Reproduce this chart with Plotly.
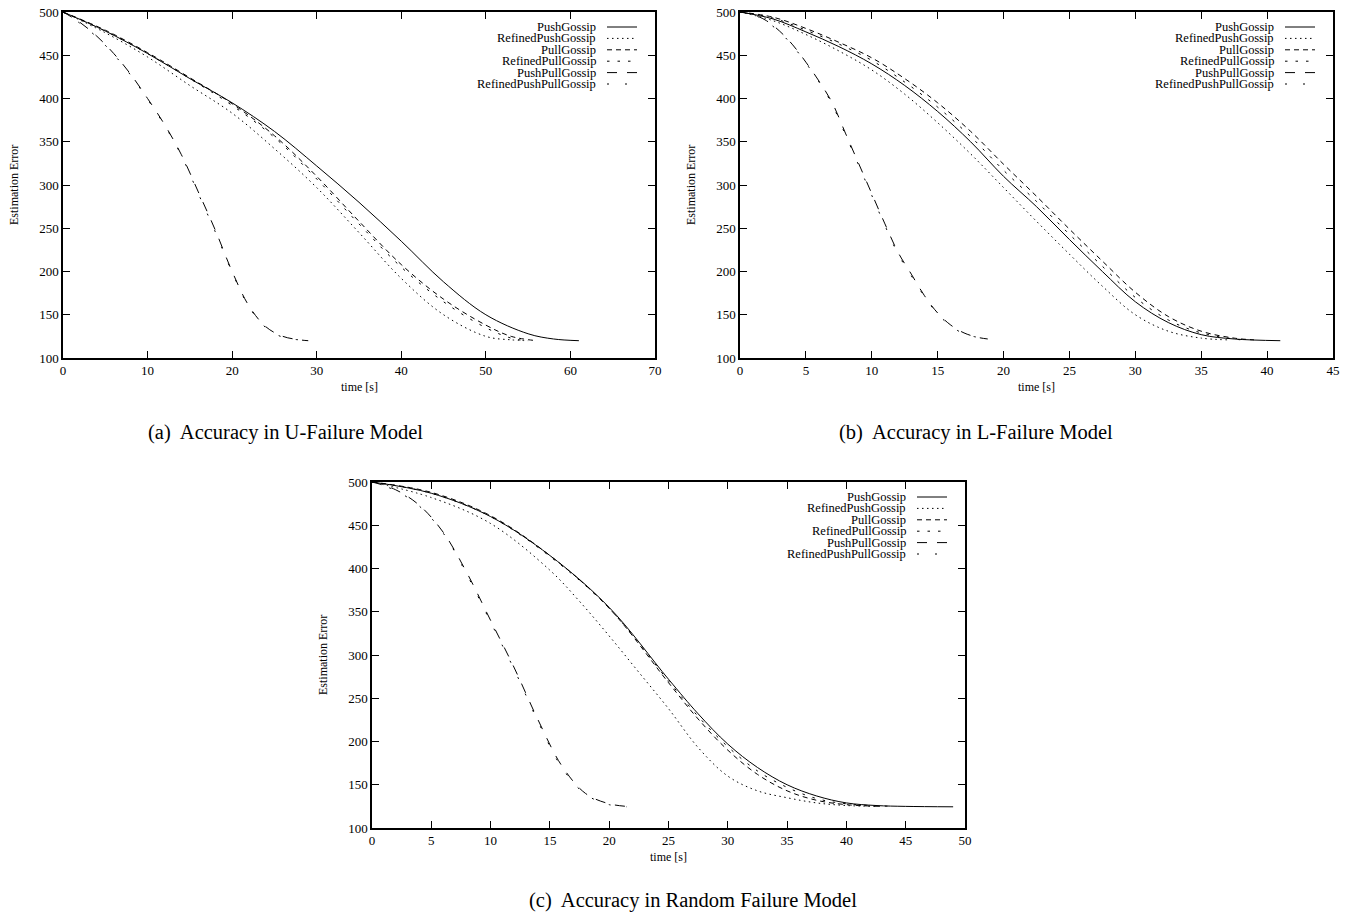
import plotly.graph_objects as go

# ---------------- data ----------------
# Panel (a): U-Failure Model
a_push_t = [0, 5, 10, 15, 20, 25, 30, 35, 40, 45, 50, 55, 58, 61]
a_push_v = [500, 478, 452, 423, 395, 362, 322, 280, 235, 188, 150, 128, 122, 120]
a_rpush_t = [0, 5, 10, 15, 20, 25, 30, 35, 40, 45, 50, 53, 55]
a_rpush_v = [500, 476, 448, 415, 383, 342, 297, 245, 192, 150, 125, 121, 120]
a_pull_t = [0, 5, 10, 15, 20, 25, 30, 35, 40, 45, 50, 53, 56]
a_pull_v = [500, 479, 453, 424, 394, 357, 310, 258, 208, 168, 138, 125, 120]
a_rpull_t = [0, 5, 10, 15, 20, 25, 30, 35, 40, 45, 50, 53, 55]
a_rpull_v = [500, 478, 452, 423, 392, 355, 307, 255, 205, 165, 135, 123, 120]
a_pp_t = [0, 2, 4, 6, 8, 10, 12, 14, 16, 18, 20, 22, 24, 26, 28, 29]
a_pp_v = [500, 488, 472, 452, 428, 400, 370, 335, 292, 248, 200, 160, 136, 125, 121, 120]
a_rpp_t = [0, 2, 4, 6, 8, 10, 12, 14, 16, 18, 20, 22, 24, 26, 28]
a_rpp_v = [500, 487, 471, 451, 427, 399, 369, 334, 290, 246, 199, 159, 135, 124, 121]

# Panel (b): L-Failure Model
b_push_t = [0, 2.5, 5, 7.5, 10, 12.5, 15, 17.5, 20, 22.5, 25, 27.5, 30, 32.5, 35, 37.5, 41]
b_push_v = [500, 492, 477, 460, 440, 415, 385, 350, 310, 275, 237, 200, 165, 141, 127, 122, 120]
b_rpush_t = [0, 2.5, 5, 7.5, 10, 12.5, 15, 17.5, 20, 22.5, 25, 27.5, 30, 32.5, 35, 37]
b_rpush_v = [500, 490, 474, 455, 433, 405, 372, 336, 297, 258, 220, 183, 150, 131, 123, 121]
b_pull_t = [0, 2.5, 5, 7.5, 10, 12.5, 15, 17.5, 20, 22.5, 25, 27.5, 30, 32.5, 35, 37.5, 39]
b_pull_v = [500, 494, 481, 465, 447, 423, 395, 362, 324, 287, 249, 212, 176, 148, 131, 123, 121]
b_rpull_t = [0, 2.5, 5, 7.5, 10, 12.5, 15, 17.5, 20, 22.5, 25, 27.5, 30, 32.5, 35, 38]
b_rpull_v = [500, 493, 479, 463, 444, 419, 390, 356, 317, 281, 243, 206, 170, 144, 129, 121]
b_pp_t = [0, 1, 2, 3, 4, 5, 6, 7, 8, 9, 10, 11, 12, 13, 14, 15, 16, 17, 18, 18.8]
b_pp_v = [500, 497, 490, 478, 462, 442, 420, 395, 360, 325, 290, 255, 222, 197, 172, 152, 138, 129, 124, 122]
b_rpp_t = [0, 1, 2, 3, 4, 5, 6, 7, 8, 9, 10, 11, 12, 13, 14, 15, 16, 17, 18]
b_rpp_v = [500, 497, 489, 477, 461, 441, 419, 393, 358, 323, 288, 253, 220, 195, 171, 151, 137, 128, 124]

# Panel (c): Random Failure Model
c_push_t = [0, 5, 10, 15, 20, 25, 27.5, 30, 32.5, 35, 37.5, 40, 42.5, 45, 49]
c_push_v = [500, 487, 460, 415, 355, 272, 232, 197, 170, 150, 137, 129, 126, 125, 124.5]
c_rpush_t = [0, 5, 10, 15, 17.5, 20, 22.5, 25, 27.5, 30, 32.5, 35, 37.5, 40, 43]
c_rpush_v = [500, 482, 452, 398, 362, 322, 280, 238, 193, 160, 143, 135, 129, 126, 125]
c_pull_t = [0, 5, 10, 15, 20, 25, 27.5, 30, 32.5, 35, 37.5, 40, 43]
c_pull_v = [500, 488, 461, 415, 354, 268, 226, 190, 162, 143, 132, 127, 125]
c_rpull_t = [0, 5, 10, 15, 20, 25, 27.5, 30, 32.5, 35, 37.5, 40, 44]
c_rpull_v = [500, 487, 460, 414, 354, 270, 229, 194, 166, 147, 134, 128, 125]
c_pp_t = [0, 2, 4, 6, 8, 10, 12, 14, 16, 18, 20, 22]
c_pp_v = [500, 491, 473, 442, 395, 340, 285, 225, 172, 140, 128, 124.5]
c_rpp_t = [0, 2, 4, 6, 8, 10, 12, 14, 16, 18, 20, 21.5]
c_rpp_v = [500, 490, 472, 441, 393, 338, 283, 223, 170, 139, 127, 124.5]

series_names = ["PushGossip", "RefinedPushGossip", "PullGossip",
                "RefinedPullGossip", "PushPullGossip", "RefinedPushPullGossip"]
dashes = ["solid", "1.5px,3.5px", "5px,4px", "2.5px,8px", "10px,10px", "2px,16px"]

panels = [
    dict(data=[(a_push_t, a_push_v), (a_rpush_t, a_rpush_v), (a_pull_t, a_pull_v),
               (a_rpull_t, a_rpull_v), (a_pp_t, a_pp_v), (a_rpp_t, a_rpp_v)],
         px=(63, 655), py=(12, 358), xmax=70, dtick=10,
         caption="(a)\u00a0 Accuracy in U-Failure Model", cap_xy=(285, 432)),
    dict(data=[(b_push_t, b_push_v), (b_rpush_t, b_rpush_v), (b_pull_t, b_pull_v),
               (b_rpull_t, b_rpull_v), (b_pp_t, b_pp_v), (b_rpp_t, b_rpp_v)],
         px=(740, 1333), py=(12, 358), xmax=45, dtick=5,
         caption="(b)\u00a0 Accuracy in L-Failure Model", cap_xy=(976, 432)),
    dict(data=[(c_push_t, c_push_v), (c_rpush_t, c_rpush_v), (c_pull_t, c_pull_v),
               (c_rpull_t, c_rpull_v), (c_pp_t, c_pp_v), (c_rpp_t, c_rpp_v)],
         px=(372, 965), py=(482, 828), xmax=50, dtick=5,
         caption="(c)\u00a0 Accuracy in Random Failure Model", cap_xy=(693, 900)),
]

W, H = 1353, 915
FONT = "Liberation Serif"

def fx(p):
    return p / W

def fy(p):
    return 1 - p / H

fig = go.Figure()
annotations = []
shapes = []

def txt(text, x, y, size, xanchor="center", angle=0):
    return dict(text=text, x=fx(x), y=fy(y), xref="paper", yref="paper",
                xanchor=xanchor, yanchor="middle", showarrow=False, textangle=angle,
                font=dict(family=FONT, size=size, color="black"))

for i, pn in enumerate(panels):
    k = "" if i == 0 else str(i + 1)
    for j, (t, v) in enumerate(pn["data"]):
        fig.add_trace(go.Scatter(
            x=t, y=v, mode="lines", name=series_names[j], showlegend=False,
            line=dict(color="black", width=1, dash=dashes[j], shape="spline", smoothing=1.0),
            xaxis="x" + k, yaxis="y" + k))
    axcommon = dict(showline=True, linecolor="black", linewidth=1.5, mirror="allticks",
                    ticks="inside", ticklen=7, tickwidth=1, tickcolor="black",
                    showgrid=False, zeroline=False, automargin=False,
                    ticklabeloverflow="allow",
                    tickfont=dict(family=FONT, size=13, color="black"))
    fig.update_layout(**{
        "xaxis" + k: dict(domain=[fx(pn["px"][0]), fx(pn["px"][1])], range=[0, pn["xmax"]],
                          dtick=pn["dtick"], tick0=0, anchor="y" + k, **axcommon),
        "yaxis" + k: dict(domain=[fy(pn["py"][1]), fy(pn["py"][0])], range=[100, 500],
                          dtick=50, tick0=100, anchor="x" + k, **axcommon),
    })
    x0, x1 = pn["px"]
    y0, y1 = pn["py"]
    annotations.append(txt("time [s]", (x0 + x1) / 2, y1 + 29, 12))
    annotations.append(txt("Estimation Error", x0 - 49, (y0 + y1) / 2, 12, angle=-90))
    annotations.append(txt(pn["caption"], pn["cap_xy"][0], pn["cap_xy"][1], 20.5))
    # legend (gnuplot style: right-aligned text, sample to the right)
    text_right = x1 - 57
    for j, nm in enumerate(series_names):
        ry = y0 + 15 + j * 11.4
        annotations.append(txt(nm, text_right, ry, 12.5, xanchor="right"))
        shapes.append(dict(type="line", xref="paper", yref="paper",
                           x0=fx(text_right + 9), x1=fx(text_right + 39),
                           y0=fy(ry), y1=fy(ry),
                           line=dict(color="black", width=1, dash=dashes[j])))

fig.update_layout(width=W, height=H, margin=dict(l=0, r=0, t=0, b=0),
                  paper_bgcolor="white", plot_bgcolor="white",
                  annotations=annotations, shapes=shapes, template="none",
                  font=dict(family=FONT, color="black"))

fig.write_html("out.html", config={"displayModeBar": False},
               post_script="document.body.style.margin='0px';document.body.style.overflow='hidden';")
